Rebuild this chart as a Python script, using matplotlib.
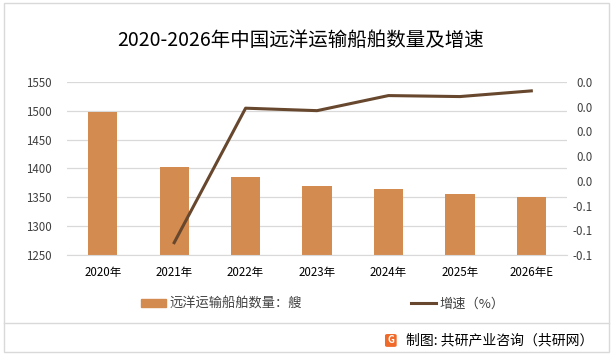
import numpy as np
import matplotlib
matplotlib.use('Agg')
import matplotlib.pyplot as plt
from matplotlib.patches import Rectangle, FancyBboxPatch
from matplotlib.lines import Line2D

plt.rcParams['font.family'] = ['Noto Sans CJK SC', 'DejaVu Sans']

# data
years = ['2020年', '2021年', '2022年', '2023年', '2024年', '2025年', '2026年E']
ships = [1498, 1402, 1386, 1370, 1364, 1355, 1350]
growth = [np.nan, -0.065, -0.0106, -0.0116, -0.0055, -0.0059, -0.0036]

bar_color = '#D38B4F'
line_color = '#67472D'
grid_color = '#D9D9D9'
text_color = '#404040'

fig = plt.figure(figsize=(6.15, 3.58), dpi=100)
ax = fig.add_axes([0.109, 0.2877, 0.813, 0.4833])
x = np.arange(len(years))

ax.bar(x, ships, width=0.41, color=bar_color, zorder=2)
ax.set_ylim(1250, 1550)
ax.set_yticks(range(1250, 1551, 50))
ax.set_xlim(-0.5, len(years) - 0.5)
ax.set_xticks(x)
ax.set_xticklabels(years)
ax.grid(axis='y', color=grid_color, linewidth=0.9, zorder=0)
ax.tick_params(axis='both', length=0, labelsize=8.3, colors='#000000', pad=8)
ax.tick_params(axis='y', labelcolor=text_color, pad=11)
for s in ['top', 'right', 'left']:
    ax.spines[s].set_visible(False)
ax.spines['bottom'].set_color(grid_color)

ax2 = ax.twinx()
ax2.plot(x, growth, color=line_color, linewidth=2.2, zorder=3)
ax2.set_ylim(-0.07, 0.0)
ax2.set_yticks(np.linspace(-0.07, 0.0, 8))
ax2.set_yticklabels([f'{v:.1f}'.replace('-0.0', '0.0') for v in np.linspace(-0.07, 0.0, 8)],
                    ha='right')
ax2.tick_params(axis='y', length=0, labelsize=8.3, labelcolor=text_color, pad=18.7)
for s in ax2.spines.values():
    s.set_visible(False)

fig.text(0.488, 0.888, '2020-2026年中国远洋运输船舶数量及增速', ha='center', va='center',
         fontsize=14, color='#000000')

handles = [Rectangle((0, 0), 1, 1, color=bar_color),
           Line2D([0], [0], color=line_color, linewidth=2.2)]
fig.legend(handles, ['远洋运输船舶数量：艘', '增速（%）'], loc='center',
           bbox_to_anchor=(0.525, 0.151), ncol=2, frameon=False, fontsize=9.5,
           handlelength=1.9, handleheight=0.6, handletextpad=0.25, columnspacing=8.3,
           labelcolor=text_color)

# separator and frame
fig.add_artist(Line2D([0.006, 0.99], [0.098, 0.098], color=grid_color, linewidth=1))
fig.add_artist(Rectangle((0.006, 0.017), 0.984, 0.975, fill=False,
                         edgecolor=grid_color, linewidth=1))

# footer
fig.add_artist(FancyBboxPatch((0.626, 0.031), 0.019, 0.036,
                              boxstyle='round,pad=0,rounding_size=0.004',
                              facecolor='#F06A2A', edgecolor='none'))
fig.text(0.6355, 0.049, 'G', ha='center', va='center', fontsize=7,
         color='white', fontweight='bold')
fig.text(0.66, 0.049, '制图: 共研产业咨询（共研网）', ha='left', va='center',
         fontsize=10, color='#000000')

fig.savefig('out.png', dpi=100)
